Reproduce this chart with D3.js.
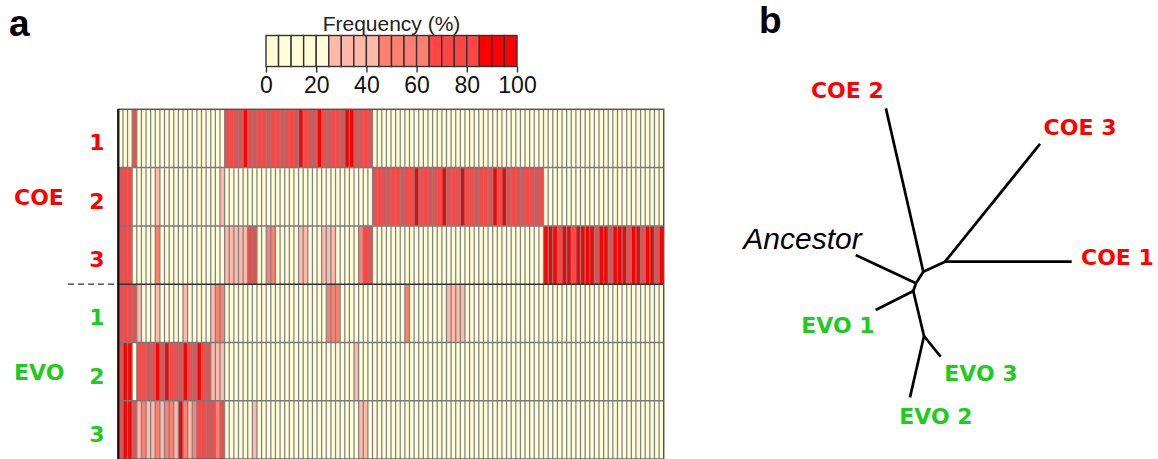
<!DOCTYPE html>
<html><head><meta charset="utf-8">
<script src="https://cdn.jsdelivr.net/npm/d3@7"></script>
<style>body{margin:0;background:#fff}svg{display:block}</style>
</head><body>
<svg id="c" width="1158" height="459"></svg>
<script>
// ---------- DATA ----------
const rowGroups = ["COE","COE","COE","EVO","EVO","EVO"];
const rowLabels = ["1","2","3","1","2","3"];
const groupNames = ["COE","EVO"];
const legendBins = [0,5,10,15,20,25,30,35,40,45,50,55,60,65,70,75,80,85,90,95];
const legendTicks = [0,20,40,60,80,100];
const colorBreaks = [25,45,65,85];

// Frequency (%) per mutation column, one array per population
const coe1 = [
 0,0,0,70,0,0,0,0,0,0,
 0,0,0,0,0,0,0,0,0,0,
 0,0,0,70,70,70,70,90,70,70,
 70,70,70,70,70,70,70,70,70,90,
 70,70,70,90,70,70,70,70,70,90,
 90,70,70,70,70,0,0,0,0,0,
 0,0,0,0,0,0,0,0,0,0,
 0,0,0,0,0,0,0,0,0,0,
 0,0,0,0,0,0,0,0,0,0,
 0,0,0,0,0,0,0,0,0,0,
 0,0,0,0,0,0,0,0,0,0,
 0,0,0,0,0,0,0,0];
const coe2 = [
 70,70,70,0,0,0,0,0,30,0,
 0,0,0,0,0,0,0,0,0,0,
 0,0,30,0,0,0,0,0,0,0,
 0,0,0,0,0,0,0,0,0,0,
 0,0,0,0,0,0,0,0,0,0,
 0,0,0,0,0,70,70,70,70,70,
 70,70,70,70,90,70,70,70,70,70,
 90,70,70,70,90,70,70,70,70,70,
 70,90,70,90,70,70,70,70,70,70,
 70,70,0,0,0,0,0,0,0,0,
 0,0,0,0,0,0,0,0,0,0,
 0,0,0,0,0,0,0,0];
const coe3 = [
 70,70,70,0,0,0,0,0,55,0,
 0,0,0,0,0,0,0,0,0,0,
 0,0,0,30,30,30,30,30,70,70,
 0,0,55,55,0,0,0,0,0,30,
 30,0,0,0,30,30,30,0,0,0,
 0,0,55,70,70,0,0,0,0,0,
 0,0,0,0,0,0,0,0,0,0,
 0,0,0,0,0,0,0,0,0,0,
 0,0,0,0,0,0,0,0,0,0,
 0,0,90,90,90,70,90,90,70,90,
 90,90,90,70,90,90,70,90,90,90,
 70,90,90,70,90,90,70,90];
const evo1 = [
 70,70,70,70,30,0,0,0,30,0,
 0,0,0,0,30,0,0,0,0,0,
 30,55,55,0,0,0,0,0,0,0,
 0,0,0,0,0,0,0,0,0,0,
 0,0,0,0,0,55,55,55,0,0,
 0,0,0,0,0,0,0,0,0,0,
 0,0,55,0,0,0,0,0,0,0,
 0,30,30,30,30,0,0,0,0,0,
 0,0,0,0,0,0,0,0,0,0,
 0,0,0,0,0,0,0,0,0,0,
 0,0,0,0,0,0,0,0,0,0,
 0,0,0,0,0,0,0,0];
const evo2 = [
 70,90,90,0,70,70,70,70,90,70,
 90,70,70,70,90,70,70,90,70,70,
 30,30,30,0,0,0,0,0,0,0,
 0,0,0,0,0,0,0,0,0,0,
 0,0,0,0,0,0,0,0,0,0,
 0,30,0,0,0,0,0,0,0,0,
 0,0,0,0,0,0,0,0,0,0,
 0,0,0,0,0,0,0,0,0,0,
 0,0,0,0,0,0,0,0,0,0,
 0,0,0,0,0,0,0,0,0,0,
 0,0,0,0,0,0,0,0,0,0,
 0,0,0,0,0,0,0,0];
const evo3 = [
 70,90,90,70,30,55,30,30,55,30,
 55,55,30,90,55,30,55,70,70,70,
 70,55,70,0,0,0,0,0,0,30,
 0,0,0,0,0,0,0,0,0,0,
 0,0,0,0,0,0,0,0,0,0,
 0,0,30,30,0,0,0,0,0,0,
 0,0,0,0,0,0,0,0,0,0,
 0,0,0,0,0,0,0,0,0,0,
 0,0,0,0,0,0,0,0,0,0,
 0,0,0,0,0,0,0,0,0,0,
 0,0,0,0,0,0,0,0,0,0,
 0,0,0,0,0,0,0,0];

// unrooted tree: branch lengths and angles (degrees, counter-clockwise from east)
const treeParents = ["N1","N1","N2","N2","N1","N3","N3","N4","N4","N5","N5"];
const treeChildren = ["COE 2","N2","COE 3","COE 1","N3","Ancestor","N4","EVO 1","N5","EVO 3","EVO 2"];
const branchLengths = [1.676,0.239,1.513,1.267,0.137,0.666,0.082,0.421,0.463,0.266,0.629];
const branchAngles = [102.9,24.7,51.1,0,237.8,154.9,250.7,206.8,283.4,308.9,257.1];

// ---------- STYLE / LAYOUT ----------
const svg = d3.select("#c");
const RED = "#FF0000", GREEN = "#1ECC1E";
const groupColor = {COE: RED, EVO: GREEN};
const color = d3.scaleThreshold().domain(colorBreaks)
  .range(["#FFFCD8","#FFB9A8","#FF8070","#FF4545","#FF0000"]);

const data = [coe1,coe2,coe3,evo1,evo2,evo3];
const nCols = coe1.length;
const x = d3.scaleBand().domain(d3.range(nCols)).range([118.3, 663.7]);
const y = d3.scaleBand().domain(d3.range(data.length)).range([109.3, 459.1]);

// panel letters
svg.append("text").attr("x",9).attr("y",36).text("a")
  .attr("font-family","Liberation Sans, Arial").attr("font-weight","bold").attr("font-size",37);
svg.append("text").attr("x",759).attr("y",33).text("b")
  .attr("font-family","Liberation Sans, Arial").attr("font-weight","bold").attr("font-size",37);

// heatmap cells
const hm = svg.append("g");
data.forEach((row, r) => {
  hm.append("g").selectAll("rect").data(row).join("rect")
    .attr("x", (d,i) => x(i)).attr("y", y(r))
    .attr("width", x.bandwidth()+0.3).attr("height", y.bandwidth())
    .attr("fill", d => color(d));
});
// vertical grid
hm.append("g").selectAll("line").data(d3.range(1,nCols)).join("line")
  .attr("x1", d => x(d)).attr("x2", d => x(d))
  .attr("y1", y.range()[0]).attr("y2", y.range()[1])
  .attr("stroke","#828282").attr("stroke-width",1.25);
// horizontal row separators
hm.append("g").selectAll("line").data(d3.range(1,data.length)).join("line")
  .attr("x1", x.range()[0]).attr("x2", x.range()[1])
  .attr("y1", d => y(d)).attr("y2", d => y(d))
  .attr("stroke", d => rowGroups[d] !== rowGroups[d-1] ? "#333" : "#7a7a7a")
  .attr("stroke-width", d => rowGroups[d] !== rowGroups[d-1] ? 1.6 : 1.5);
// group separator dashed extension
const sepRows = d3.range(1,data.length).filter(d => rowGroups[d] !== rowGroups[d-1]);
hm.append("g").selectAll("line").data(sepRows).join("line")
  .attr("x1", 68).attr("x2", x.range()[0])
  .attr("y1", d => y(d)).attr("y2", d => y(d))
  .attr("stroke","#333").attr("stroke-width",1.3).attr("stroke-dasharray","6,4");
// border
hm.append("rect").attr("x", x.range()[0]).attr("y", y.range()[0])
  .attr("width", x.range()[1]-x.range()[0]).attr("height", y.range()[1]-y.range()[0])
  .attr("fill","none").attr("stroke","#555").attr("stroke-width",1.5);
hm.append("line").attr("x1", x.range()[0]).attr("x2", x.range()[0])
  .attr("y1", y.range()[0]).attr("y2", y.range()[1]).attr("stroke","#111").attr("stroke-width",2.2);

// row labels
const labFont = "DejaVu Sans, Verdana, sans-serif";
svg.append("g").selectAll("text").data(rowLabels).join("text")
  .attr("x", 97).attr("y", (d,i) => y(i) + y.bandwidth()/2 + 12)
  .attr("text-anchor","middle").attr("font-family",labFont).attr("font-weight","bold")
  .attr("font-size",22).attr("fill",(d,i) => groupColor[rowGroups[i]]).text(d => d);
svg.append("g").selectAll("text").data(groupNames).join("text")
  .attr("x", 14)
  .attr("y", g => { const idx = rowGroups.indexOf(g) + 1; return y(idx) + y.bandwidth()/2 + 8; })
  .attr("font-family",labFont).attr("font-weight","bold").attr("font-size",22)
  .attr("fill", g => groupColor[g]).text(g => g);

// legend
const lx = d3.scaleLinear().domain([0,100]).range([266, 517]);
const lg = svg.append("g");
lg.selectAll("rect").data(legendBins).join("rect")
  .attr("x", d => lx(d)).attr("y", 35.5)
  .attr("width", lx(5)-lx(0)).attr("height", 31)
  .attr("fill", d => color(d+2.5)).attr("stroke","#333").attr("stroke-width",1.4);
lg.append("g").attr("transform","translate(0,66.5)")
  .call(d3.axisBottom(lx).tickValues(legendTicks).tickSize(6).tickPadding(4).tickFormat(d3.format("d")))
  .call(g => g.select(".domain").remove())
  .call(g => g.selectAll("line").attr("stroke","#333").attr("stroke-width",1.4))
  .call(g => g.selectAll("text").attr("font-family","Liberation Sans, Arial").attr("font-size",23).attr("fill","#111"));
lg.append("text").attr("x", lx(50)).attr("y", 31).attr("text-anchor","middle")
  .attr("font-family","Liberation Sans, Arial").attr("font-size",21).attr("fill","#222").text("Frequency (%)");

// tree
const pos = {N1: [0,0]};
treeChildren.forEach((c,i) => {
  const p = pos[treeParents[i]], a = branchAngles[i]*Math.PI/180;
  pos[c] = [p[0] + branchLengths[i]*Math.cos(a), p[1] + branchLengths[i]*Math.sin(a)];
});
const tx = d3.scaleLinear().domain([0,1]).range([923.3, 1023.3]);
const ty = d3.scaleLinear().domain([0,1]).range([271.7, 171.7]);
svg.append("g").selectAll("line").data(treeChildren).join("line")
  .attr("x1",(c,i) => tx(pos[treeParents[i]][0])).attr("y1",(c,i) => ty(pos[treeParents[i]][1]))
  .attr("x2",c => tx(pos[c][0])).attr("y2",c => ty(pos[c][1]))
  .attr("stroke","#000").attr("stroke-width",2.7).attr("stroke-linecap","butt");

const leafStyle = {
  "COE 2":   {dx:-38.5, dy:-10, anchor:"middle"},
  "COE 3":   {dx: 40,   dy:-9,  anchor:"middle"},
  "COE 1":   {dx: 9.3,  dy:3.4, anchor:"start"},
  "Ancestor":{dx:-53.2, dy:-5.7,anchor:"middle"},
  "EVO 1":   {dx:-37.7, dy:22.7,anchor:"middle"},
  "EVO 3":   {dx: 40.3, dy:24,  anchor:"middle"},
  "EVO 2":   {dx: 26,   dy:27,  anchor:"middle"}
};
const leaves = treeChildren.filter(c => !c.startsWith("N"));
svg.append("g").selectAll("text").data(leaves).join("text")
  .attr("x", c => tx(pos[c][0]) + leafStyle[c].dx)
  .attr("y", c => ty(pos[c][1]) + leafStyle[c].dy)
  .attr("text-anchor", c => leafStyle[c].anchor)
  .attr("font-family", c => c === "Ancestor" ? "Liberation Sans, Arial" : labFont)
  .attr("font-style", c => c === "Ancestor" ? "italic" : "normal")
  .attr("font-weight", c => c === "Ancestor" ? "normal" : "bold")
  .attr("font-size", c => c === "Ancestor" ? 30 : 22)
  .attr("fill", c => c === "Ancestor" ? "#000" : groupColor[c.split(" ")[0]])
  .text(c => c);
</script>
</body></html>
